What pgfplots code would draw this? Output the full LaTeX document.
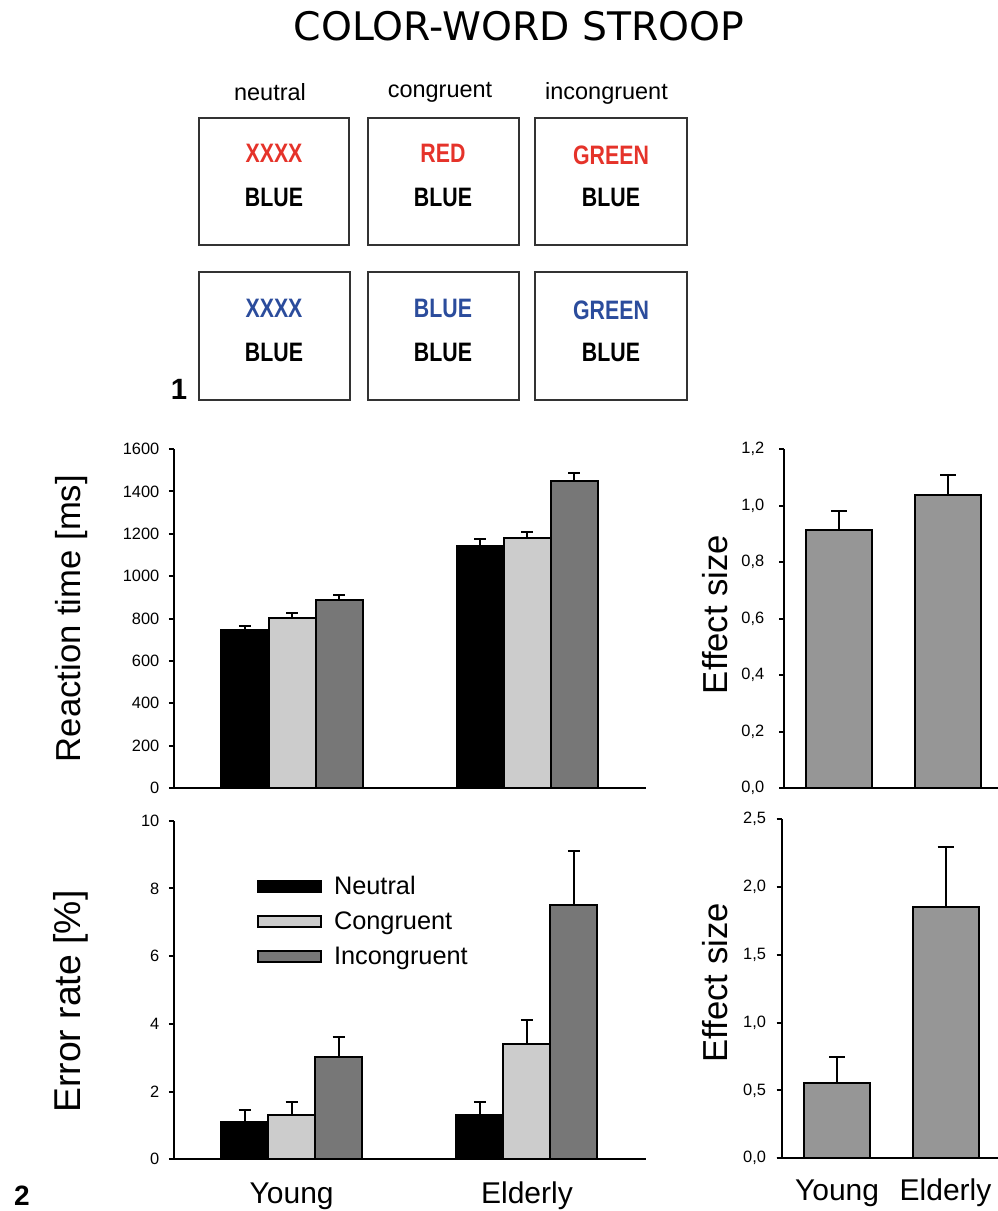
\documentclass[border=0pt]{standalone}
\usepackage{fontspec}
\setmainfont{Liberation Sans}
\newfontfamily\titlefont{DejaVu Sans}
\newfontfamily\boxfont[FakeStretch=0.8]{Liberation Sans}
\usepackage{pgfplots}
\pgfplotsset{compat=1.18}
\definecolor{sred}{HTML}{E5332A}
\definecolor{sblue}{HTML}{2B4C9C}
\definecolor{lgray}{HTML}{CCCCCC}
\definecolor{dgray}{HTML}{777777}
\definecolor{mgray}{HTML}{969696}
\definecolor{boxline}{HTML}{333333}

\pgfplotsset{
  base/.style={
    scale only axis, anchor=south west,
    axis x line*=bottom, axis y line*=left,
    axis line style={line width=1.5pt, black},
    x axis line style={shorten <=-3.75pt},
    ymin=0, tick align=outside, major tick length=3.75pt,
    ytick style={line width=1.5pt, black},
    xtick style={draw=none},
    tick label style={font=\fontsize{12.3}{14}\selectfont},
    /pgf/number format/assume math mode=true,
    ylabel style={font=\fontsize{26}{28}\selectfont, anchor=base},
  },
  errbar/.style={error bars/.cd, y dir=plus, y explicit,
    error bar style={line width=1.5pt, black},
    error mark options={rotate=90, mark size=#1, line width=1.5pt, black}},
  legimg/.style={legend image code/.code={\draw[##1,line width=1.5pt] (0pt,-4pt) rectangle (47pt,4pt);}},
}

\begin{document}
\begin{tikzpicture}[x=0.75pt,y=-0.75pt]
\path[use as bounding box] (0,0) rectangle (998,1211);

% ---- part 1: stimulus diagram ----
\node[font=\titlefont\fontsize{29.5}{32}\selectfont] at (519,26) {COLOR-WORD STROOP};

\node[anchor=base, font=\fontsize{17.6}{20}\selectfont] at (270,100.7) {neutral};
\node[anchor=base, font=\fontsize{17.6}{20}\selectfont] at (440,97) {congruent};
\node[anchor=base, font=\fontsize{17.6}{20}\selectfont] at (606.5,99.3) {incongruent};

\begin{scope}[line width=1.1pt, draw=boxline]
\draw (199,118) rectangle (349,245);
\draw (368,118) rectangle (519,245);
\draw (535,118) rectangle (687,245);
\draw (199,272) rectangle (350,400);
\draw (368,272) rectangle (519,400);
\draw (535,272) rectangle (687,400);
\end{scope}

\tikzset{word/.style={font=\boxfont\bfseries\fontsize{20}{22}\selectfont, inner sep=0pt}}
\node[word, text=sred] at (274,153) {XXXX};
\node[word, text=sred] at (443,153) {RED};
\node[word, text=sred] at (611,155) {GREEN};
\node[word] at (274,197) {BLUE};
\node[word] at (443,197) {BLUE};
\node[word] at (611,197) {BLUE};
\node[word, text=sblue] at (274,308) {XXXX};
\node[word, text=sblue] at (443,308) {BLUE};
\node[word, text=sblue] at (611,310) {GREEN};
\node[word] at (274,352) {BLUE};
\node[word] at (443,352) {BLUE};
\node[word] at (611,352) {BLUE};

\node[font=\bfseries\fontsize{22}{24}\selectfont, inner sep=0pt] at (179,389) {1};
\node[font=\bfseries\fontsize{21}{23}\selectfont, inner sep=0pt] at (22,1195.5) {2};

% ---- Reaction time ----
\begin{axis}[base,
  at={(130.5pt,-591pt)}, width=354pt, height=254.25pt,
  xmin=-0.502, xmax=1.506, ymax=1600,
  ytick={0,200,...,1600}, /pgf/number format/1000 sep={},
  xtick=\empty,
  yticklabel style={xshift=-3.75pt},
  ybar=0pt, bar width=35.25pt,
  ylabel={Reaction time [ms]},
  ylabel style={at={(axis description cs:-0.199,0.5)}},
]
\addplot[draw=black, line width=1.5pt, fill=black, errbar=4.5pt]
  coordinates {(0,745) +- (0,18) (1,1142) +- (0,32)};
\addplot[draw=black, line width=1.5pt, fill=lgray, errbar=4.5pt]
  coordinates {(0,803) +- (0,21) (1,1180) +- (0,27)};
\addplot[draw=black, line width=1.5pt, fill=dgray, errbar=4.5pt]
  coordinates {(0,888) +- (0,24) (1,1447) +- (0,41)};
\end{axis}

% ---- Effect size (RT) ----
\begin{axis}[base,
  at={(588pt,-591pt)}, width=160.5pt, height=254.25pt,
  xmin=-0.509, xmax=1.46, ymax=1.2,
  ytick={0,0.2,0.4,0.6,0.8,1.0,1.2},
  yticklabel style={xshift=-7.5pt, /pgf/number format/.cd, fixed, fixed zerofill, precision=1, use comma},
  xtick=\empty,
  ybar, bar width=49.5pt,
  ylabel={Effect size},
  ylabel style={at={(axis description cs:-0.266,0.512)}},
]
\addplot[draw=black, line width=1.5pt, fill=mgray, errbar=6pt]
  coordinates {(0,0.912) +- (0,0.067) (1,1.037) +- (0,0.070)};
\end{axis}

% ---- Error rate ----
\begin{axis}[base,
  at={(130.5pt,-869.5pt)}, width=354pt, height=253.95pt,
  xmin=-0.5, xmax=1.506, ymax=10,
  ytick={0,2,...,10},
  yticklabel style={xshift=-3.75pt},
  xtick={0,1}, xticklabels={Young,Elderly},
  xticklabel style={font=\fontsize{22.5}{24}\selectfont, anchor=base, yshift=-29pt},
  ybar=0pt, bar width=35.25pt,
  ylabel={Error rate [\%]},
  ylabel style={font=\fontsize{28}{30}\selectfont, at={(axis description cs:-0.199,0.466)}},
  legend style={draw=none, fill=none, at={(axis description cs:0.176,0.845)}, anchor=north west,
    font=\fontsize{19}{21}\selectfont, row sep=7.5pt, inner sep=0pt,
    /tikz/every odd column/.append style={column sep=7pt}},
  legend cell align=left,
]
\addplot[draw=black, line width=1.5pt, fill=black, legimg, errbar=4.5pt]
  coordinates {(0,1.10) +- (0,0.37) (1,1.32) +- (0,0.37)};
\addplot[draw=black, line width=1.5pt, fill=lgray, legimg, errbar=4.5pt]
  coordinates {(0,1.31) +- (0,0.38) (1,3.40) +- (0,0.71)};
\addplot[draw=black, line width=1.5pt, fill=dgray, legimg, errbar=4.5pt]
  coordinates {(0,3.01) +- (0,0.59) (1,7.51) +- (0,1.60)};
\legend{Neutral,Congruent,Incongruent}
\end{axis}

% ---- Effect size (ER) ----
\begin{axis}[base,
  at={(586.3pt,-868.7pt)}, width=162.2pt, height=254.5pt,
  xmin=-0.51, xmax=1.484, ymax=2.5,
  ytick={0,0.5,1,1.5,2,2.5},
  yticklabel style={xshift=-4.5pt, /pgf/number format/.cd, fixed, fixed zerofill, precision=1, use comma},
  xtick={0,1}, xticklabels={Young,Elderly},
  xticklabel style={font=\fontsize{22.5}{24}\selectfont, anchor=base, yshift=-28pt},
  ybar, bar width=49.5pt,
  ylabel={Effect size},
  ylabel style={at={(axis description cs:-0.253,0.517)}},
]
\addplot[draw=black, line width=1.5pt, fill=mgray, errbar=6pt]
  coordinates {(0,0.557) +- (0,0.189) (1,1.854) +- (0,0.442)};
\end{axis}
\end{tikzpicture}
\end{document}
